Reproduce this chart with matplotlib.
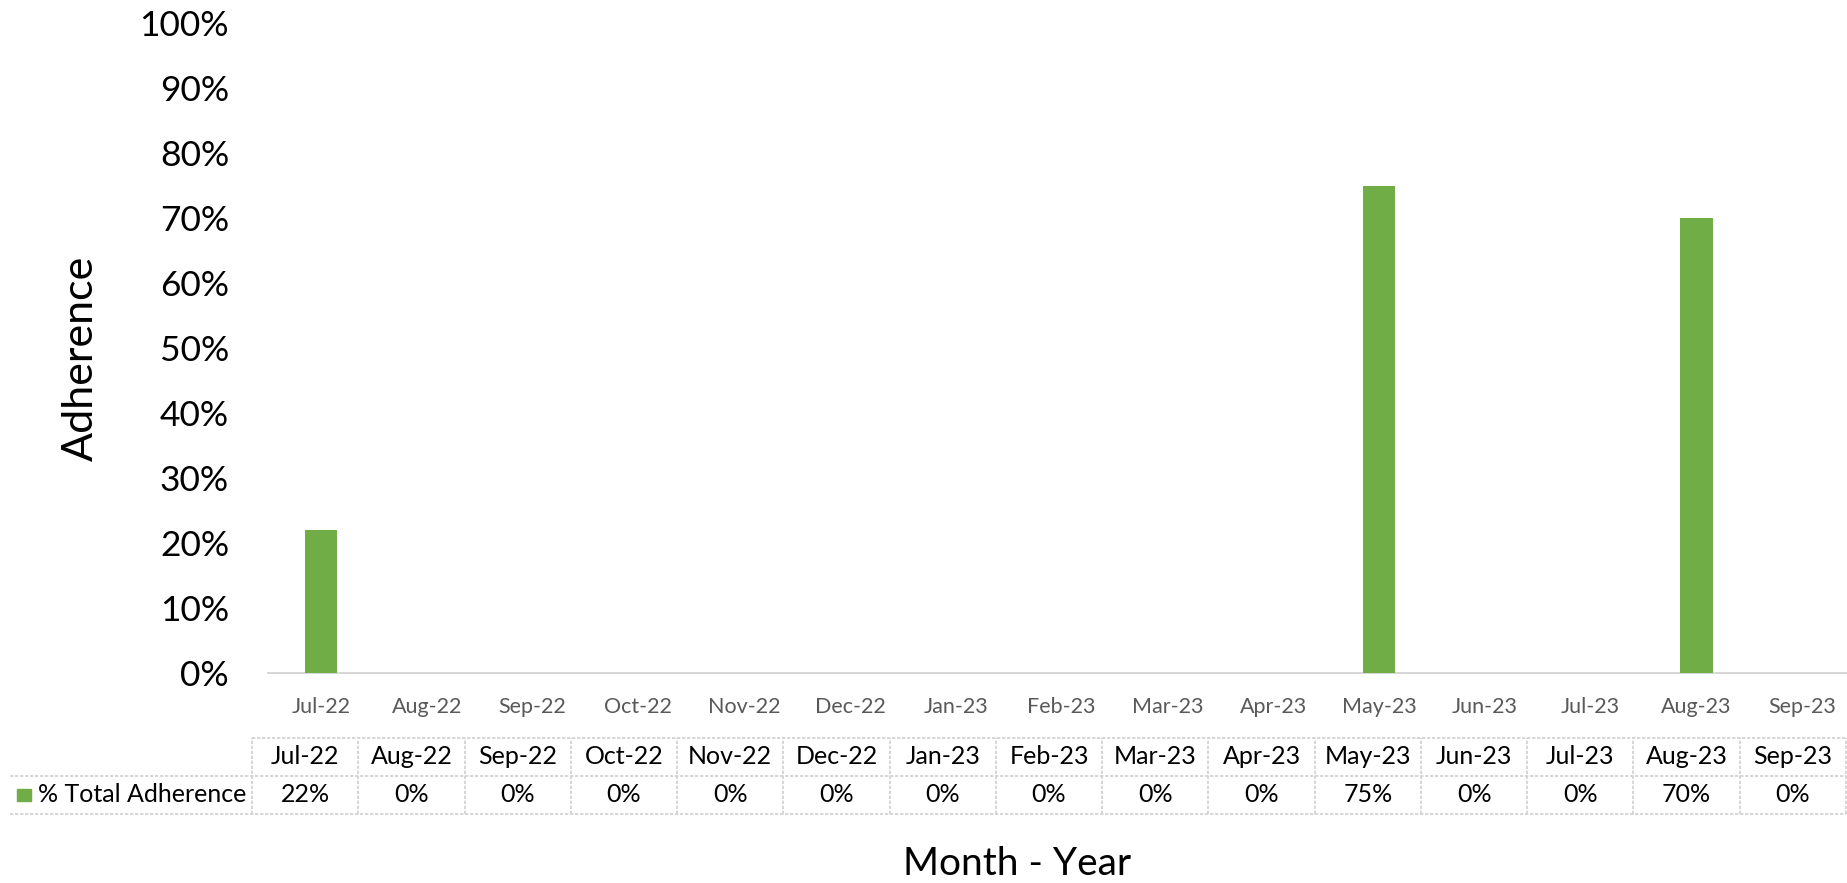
import matplotlib
matplotlib.use("Agg")
import matplotlib.pyplot as plt
from matplotlib.patches import Rectangle

months = ["Jul-22", "Aug-22", "Sep-22", "Oct-22", "Nov-22", "Dec-22", "Jan-23",
          "Feb-23", "Mar-23", "Apr-23", "May-23", "Jun-23", "Jul-23", "Aug-23", "Sep-23"]
adherence = [22, 0, 0, 0, 0, 0, 0, 0, 0, 0, 75, 0, 0, 70, 0]
series_name = "% Total Adherence"
y_ticks = [0, 10, 20, 30, 40, 50, 60, 70, 80, 90, 100]

plt.rcParams['font.family'] = ['Lato', 'DejaVu Sans']

W, H = 1847, 883
DPI = 100
fig = plt.figure(figsize=(W / DPI, H / DPI), dpi=DPI)

def fx(px):
    return px / W

def fy(py):
    return 1 - py / H

GREEN = "#70AD47"
GRID = "#D0D0D0"

# main chart axes
left, right = 268, 1855
base, top = 673.3, 23
ax = fig.add_axes([fx(left), fy(base), fx(right - left), (base - top) / H])
x = list(range(len(months)))
ax.bar(x, adherence, width=0.31, color=GREEN, zorder=3)
ax.set_xlim(-0.5, len(months) - 0.5)
ax.set_ylim(0, 100)
ax.set_yticks(y_ticks)
ax.set_yticklabels([f"{v}%" for v in y_ticks], fontsize=25.5, color="#000000")
ax.set_xticks(x)
ax.set_xticklabels(months, fontsize=15.5, color="#595959")
ax.tick_params(axis="y", length=0, pad=28)
ax.tick_params(axis="x", length=0, pad=17)
for s in ["top", "right", "left"]:
    ax.spines[s].set_visible(False)
ax.spines["bottom"].set_color(GRID)
ax.spines["bottom"].set_linewidth(1.2)
fig.text(fx(81), fy(358), "Adherence", rotation=90, ha="center", va="center",
         fontsize=31, color="#000000")

# data table axes
t_left, t_right = 252, 1846
t_top, t_mid, t_bot = 738, 773, 814
tax = fig.add_axes([fx(t_left), fy(t_bot), fx(t_right - t_left), (t_bot - t_top) / H])
n = len(months)
tax.set_xlim(0, n)
tax.set_ylim(0, 2)
tax.axis("off")
colw = (t_right - t_left) / n
leg_x = -(t_left - 10) / colw
ls = (0, (2, 1))
kw = dict(color=GRID, lw=1.2, linestyle=ls, clip_on=False)
tax.plot([0, n], [2, 2], **kw)
tax.plot([leg_x, n], [1, 1], **kw)
tax.plot([leg_x, n], [0, 0], **kw)
for i in range(n + 1):
    tax.plot([i, i], [0, 2], **kw)
for i, (m, v) in enumerate(zip(months, adherence)):
    tax.text(i + 0.5, 1.5, m, ha="center", va="center", fontsize=18, color="#000000")
    tax.text(i + 0.5, 0.5, f"{v}%", ha="center", va="center", fontsize=18, color="#000000")
sq_w = 14 / colw
sq_h = 14 / (t_bot - t_mid)
tax.add_patch(Rectangle((-(t_left - 17) / colw, 0.5 - sq_h / 2), sq_w, sq_h,
                        color=GREEN, clip_on=False))
tax.text(-(t_left - 38) / colw, 0.5, series_name, ha="left", va="center", fontsize=18, color="#000000")

fig.text(fx(1017), fy(864), "Month - Year", ha="center", va="center", fontsize=28, color="#000000")

fig.savefig("out.png", dpi=DPI)
